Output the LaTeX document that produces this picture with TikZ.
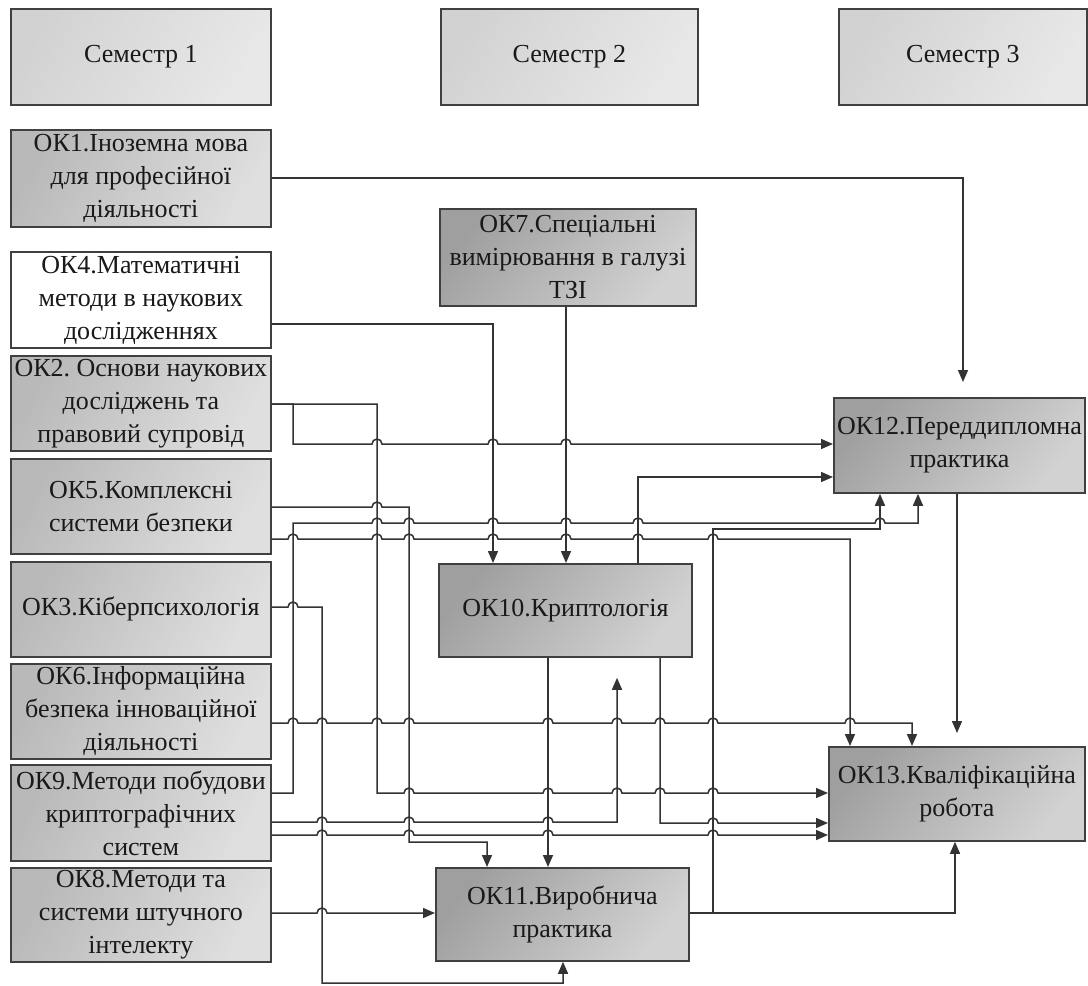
\documentclass[tikz,border=0pt]{standalone}
\usepackage{fontspec}
\setmainfont{Liberation Serif}
\usetikzlibrary{arrows.meta}
\newcommand\hop[2]{-- ({#1-5},#2) arc[start angle=180,end angle=0,radius=2.5pt]}
\begin{document}
\frenchspacing
\begin{tikzpicture}[x={(0.5pt,0)},y={(0,-0.5pt)},
  font=\fontsize{13}{16.5}\selectfont,
  box/.style={draw=black!75,line width=0.9pt,anchor=north west,align=center,inner sep=1pt,text=black!90},
  semb/.style={box,left color=gray!35,middle color=white,right color=gray!18,shading angle=60},
  lbox/.style={box,left color=gray!55,middle color=white,right color=gray!25,shading angle=60},
  wbox/.style={box,fill=white},
  dbox/.style={box,left color=gray!75,middle color=white,right color=gray!35,shading angle=50},
  conn/.style={draw=black!85,line width=0.75pt},
  arr/.style={conn,-{Triangle[length=6pt,width=5pt]},color=black!80}
]
\fill[white] (0,0) rectangle (1088,986);
\useasboundingbox (0,0) rectangle (1088,986);

% semesters
\node[semb,minimum width=130pt,minimum height=48pt] (s1) at (10,8) {Семестр 1};
\node[semb,minimum width=128.5pt,minimum height=48pt] (s2) at (440,8) {Семестр 2};
\node[semb,minimum width=124pt,minimum height=48pt] (s3) at (838,8) {Семестр 3};

% left column
\node[lbox,minimum width=130pt,minimum height=48.5pt] (ok1) at (10,129) {ОК1.Іноземна мова\\для професійної\\діяльності};
\node[wbox,minimum width=130pt,minimum height=48pt] (ok4) at (10,251) {ОК4.Математичні\\методи в наукових\\дослідженнях};
\node[lbox,minimum width=130pt,minimum height=47.5pt] (ok2) at (10,355) {ОК2. Основи наукових\\досліджень та\\правовий супровід};
\node[lbox,minimum width=130pt,minimum height=47.5pt] (ok5) at (10,458) {ОК5.Комплексні\\системи безпеки};
\node[lbox,minimum width=130pt,minimum height=47.5pt] (ok3) at (10,561) {ОК3.Кіберпсихологія};
\node[lbox,minimum width=130pt,minimum height=47.5pt] (ok6) at (10,663) {ОК6.Інформаційна\\безпека інноваційної\\діяльності};
\node[lbox,minimum width=130pt,minimum height=48pt] (ok9) at (10,764) {ОК9.Методи побудови\\криптографічних\\систем};
\node[lbox,minimum width=130pt,minimum height=47pt] (ok8) at (10,867) {ОК8.Методи та\\системи штучного\\інтелекту};

% middle / right
\node[dbox,minimum width=128pt,minimum height=48.5pt] (ok7) at (439,208) {ОК7.Спеціальні\\вимірювання в галузі\\ТЗІ};
\node[dbox,minimum width=126.5pt,minimum height=46.5pt] (ok10) at (438,563) {ОК10.Криптологія};
\node[dbox,minimum width=126.5pt,minimum height=46.5pt] (ok11) at (435,867) {ОК11.Виробнича\\практика};
\node[dbox,minimum width=125.5pt,minimum height=47.5pt] (ok12) at (833,397) {ОК12.Переддипломна\\практика};
\node[dbox,minimum width=128pt,minimum height=47pt] (ok13) at (828,746) {ОК13.Кваліфікаційна\\робота};

% connectors
\draw[arr,shorten >=7.5pt] (ok1.east |- 0,178) -| (ok12.north -| 963,0);
\draw[arr] (ok4.east |- 0,324) -| (ok10.north -| 493,0);
\draw[arr] (ok7.south -| 566,0) -- (ok10.north -| 566,0);
\draw[arr] (ok2.east |- 0,404) -- (377,404) -- (377,793)
  \hop{409}{793}\hop{548}{793}\hop{617}{793}\hop{660}{793}\hop{713}{793}
  -- (ok13.west |- 0,793);
\draw[arr] (ok2.east |- 0,404) -- (293,404) -- (293,444)
  \hop{377}{444}\hop{493}{444}\hop{566}{444} -- (ok12.west |- 0,444);
\draw[arr] (ok5.east |- 0,507) \hop{377}{507} -- (409,507) -- (409,842) -- (487,842)
  -- (ok11.north -| 487,0);
\draw[arr] (ok9.east |- 0,793) -- (293,793) -- (293,523)
  \hop{377}{523}\hop{409}{523}\hop{493}{523}\hop{566}{523}\hop{638}{523}\hop{880}{523}
  -- (918,523) -- (ok12.south -| 918,0);
\draw[arr] (ok11.east |- 0,913) -- (713,913) -- (713,529) -- (880,529) -- (ok12.south -| 880,0);
\draw[arr] (ok5.east |- 0,539)
  \hop{293}{539}\hop{377}{539}\hop{409}{539}\hop{493}{539}\hop{566}{539}\hop{638}{539}\hop{713}{539}
  -- (850,539) -- (ok13.north -| 850,0);
\draw[arr] (ok3.east |- 0,607) \hop{293}{607} -- (322,607) -- (322,983) -- (563,983)
  -- (ok11.south -| 563,0);
\draw[arr] (ok6.east |- 0,723)
  \hop{293}{723}\hop{322}{723}\hop{377}{723}\hop{409}{723}\hop{548}{723}\hop{617}{723}\hop{660}{723}\hop{713}{723}\hop{850}{723}
  -- (912,723) -- (ok13.north -| 912,0);
\draw[arr,shorten >=10pt] (ok9.east |- 0,822) \hop{322}{822}\hop{409}{822}\hop{548}{822}
  -- (617,822) -- (ok10.south -| 617,0);
\draw[arr] (ok10.south -| 548,0) -- (ok11.north -| 548,0);
\draw[arr] (ok10.south -| 660,0) -- (660,823) \hop{713}{823} -- (ok13.west |- 0,823);
\draw[arr] (ok9.east |- 0,835) \hop{322}{835}\hop{409}{835}\hop{548}{835}\hop{713}{835}
  -- (ok13.west |- 0,835);
\draw[arr] (ok8.east |- 0,913) \hop{322}{913} -- (ok11.west |- 0,913);
\draw[arr] (ok10.north -| 638,0) -- (638,477) -- (ok12.west |- 0,477);
\draw[arr] (ok11.east |- 0,913) -- (955,913) -- (ok13.south -| 955,0);
\draw[arr,shorten >=6.5pt] (ok12.south -| 957,0) -- (ok13.north -| 957,0);
\end{tikzpicture}
\end{document}
